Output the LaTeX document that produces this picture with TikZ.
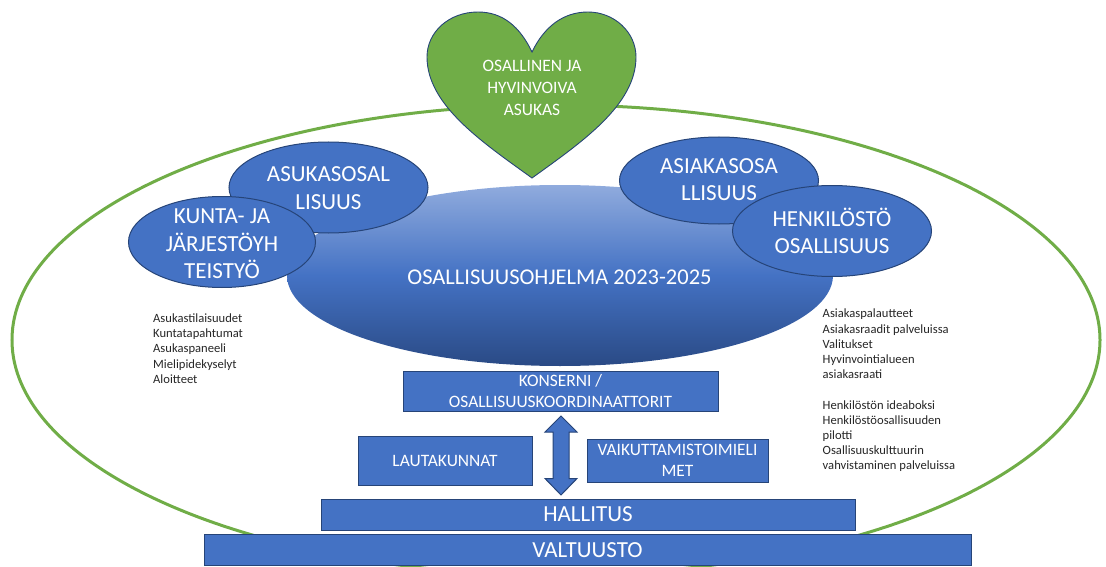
\documentclass[tikz,border=0pt]{standalone}
\usepackage{fontspec}
\setmainfont{Carlito}
\usetikzlibrary{shapes.geometric}
\definecolor{bluef}{HTML}{4472C4}
\definecolor{blued}{HTML}{2F528F}
\definecolor{edgec}{HTML}{264478}
\definecolor{greenf}{HTML}{70AD47}
\definecolor{listc}{HTML}{262626}
\definecolor{gradtop}{HTML}{90ABDD}
\definecolor{gradbot}{HTML}{2A4A85}
\tikzset{
  x=1pt,y=-1pt,
  oval/.style={ellipse,draw=edgec,line width=1pt,fill=bluef,inner sep=0pt},
  ovaltext/.style={inner sep=0pt,text=white,align=center,font=\fontsize{23}{27.5}\selectfont},
  box/.style={rectangle,draw=edgec,line width=1pt,fill=bluef,inner sep=0pt,text=white,align=center},
  listtext/.style={inner sep=0pt,anchor=north west,align=left,text=listc,font=\fontsize{12.6}{15.2}\selectfont},
}
\begin{document}
\begin{tikzpicture}
\useasboundingbox (0,0) rectangle (1106,567);
% outer ring
\node[ellipse,draw=greenf,line width=3pt,minimum width=1088pt,minimum height=470pt,inner sep=0pt] (ring) at (556,340) {};
% central gradient ellipse
\shade[top color=gradtop,bottom color=gradbot,middle color=bluef] (560,275.5) ellipse [x radius=273,y radius=90.5];
\node[inner sep=0pt,text=white,font=\fontsize{22.5}{26}\selectfont] (prog) at (559.5,277) {OSALLISUUSOHJELMA 2023-2025};
% ovals
\node[oval,minimum width=199pt,minimum height=91pt,label={[ovaltext,yshift=-0.5pt]center:ASUKASOSAL\\LISUUS}] (asukas) at (328.5,187.5) {};
\node[oval,minimum width=187pt,minimum height=91pt,label={[ovaltext,yshift=-2pt]center:KUNTA- JA\\JÄRJESTÖYH\\TEISTYÖ}] (kunta) at (222,242) {};
\node[oval,minimum width=199pt,minimum height=87pt,label={[ovaltext,yshift=1pt]center:ASIAKASOSA\\LLISUUS}] (asiakas) at (719,180.5) {};
\node[oval,minimum width=199pt,minimum height=91pt,label={[ovaltext]center:HENKILÖSTÖ\\OSALLISUUS}] (henk) at (832,231) {};
% heart
\draw[draw=edgec,line width=0.9pt,fill=greenf] (532,52)
  .. controls (520,27) and (503,12) .. (478,12)
  .. controls (449,12) and (427,32) .. (427,57)
  .. controls (427,105) and (482,142) .. (532,178)
  .. controls (582,142) and (636,105) .. (636,57)
  .. controls (636,32) and (614,12) .. (588,12)
  .. controls (563,12) and (544,27) .. (532,52) -- cycle;
\node[inner sep=0pt,text=white,align=center,font=\fontsize{17.4}{22}\selectfont] (heart) at (532,88) {OSALLINEN JA\\HYVINVOIVA\\ASUKAS};
% lists
\node[listtext] (l1) at (153,313.5) {Asukastilaisuudet\\Kuntatapahtumat\\Asukaspaneeli\\Mielipidekyselyt\\Aloitteet};
\node[listtext] (l2) at (822.5,309) {Asiakaspalautteet\\Asiakasraadit palveluissa\\Valitukset\\Hyvinvointialueen\\asiakasraati\\[15.2pt]Henkilöstön ideaboksi\\Henkilöstöosallisuuden\\pilotti\\Osallisuuskulttuurin\\vahvistaminen palveluissa};
% boxes
\node[box,minimum width=315pt,minimum height=40pt,font=\fontsize{17.4}{20.5}\selectfont] (kons) at (560.5,391) {KONSERNI /\\OSALLISUUSKOORDINAATTORIT};
\node[box,minimum width=174pt,minimum height=49pt,font=\fontsize{17.4}{20}\selectfont] (laut) at (445,460.5) {LAUTAKUNNAT};
\node[box,minimum width=181pt,minimum height=43pt,font=\fontsize{17.4}{21}\selectfont] (vaik) at (677.5,460.5) {VAIKUTTAMISTOIMIELI\\MET};
\node[box,minimum width=534pt,minimum height=31pt,font=\fontsize{23}{24}\selectfont] (hall) at (588,514.5) {HALLITUS};
\node[box,minimum width=767pt,minimum height=31pt,font=\fontsize{23}{24}\selectfont] (valt) at (587.5,550) {VALTUUSTO};
% double arrow
\draw[draw=edgec,line width=1pt,fill=bluef] (561,416) -- (577,432) -- (569,432) -- (569,478.5) -- (577,478.5) -- (561,495) -- (545,478.5) -- (553,478.5) -- (553,432) -- (545,432) -- cycle;
\end{tikzpicture}
\end{document}
